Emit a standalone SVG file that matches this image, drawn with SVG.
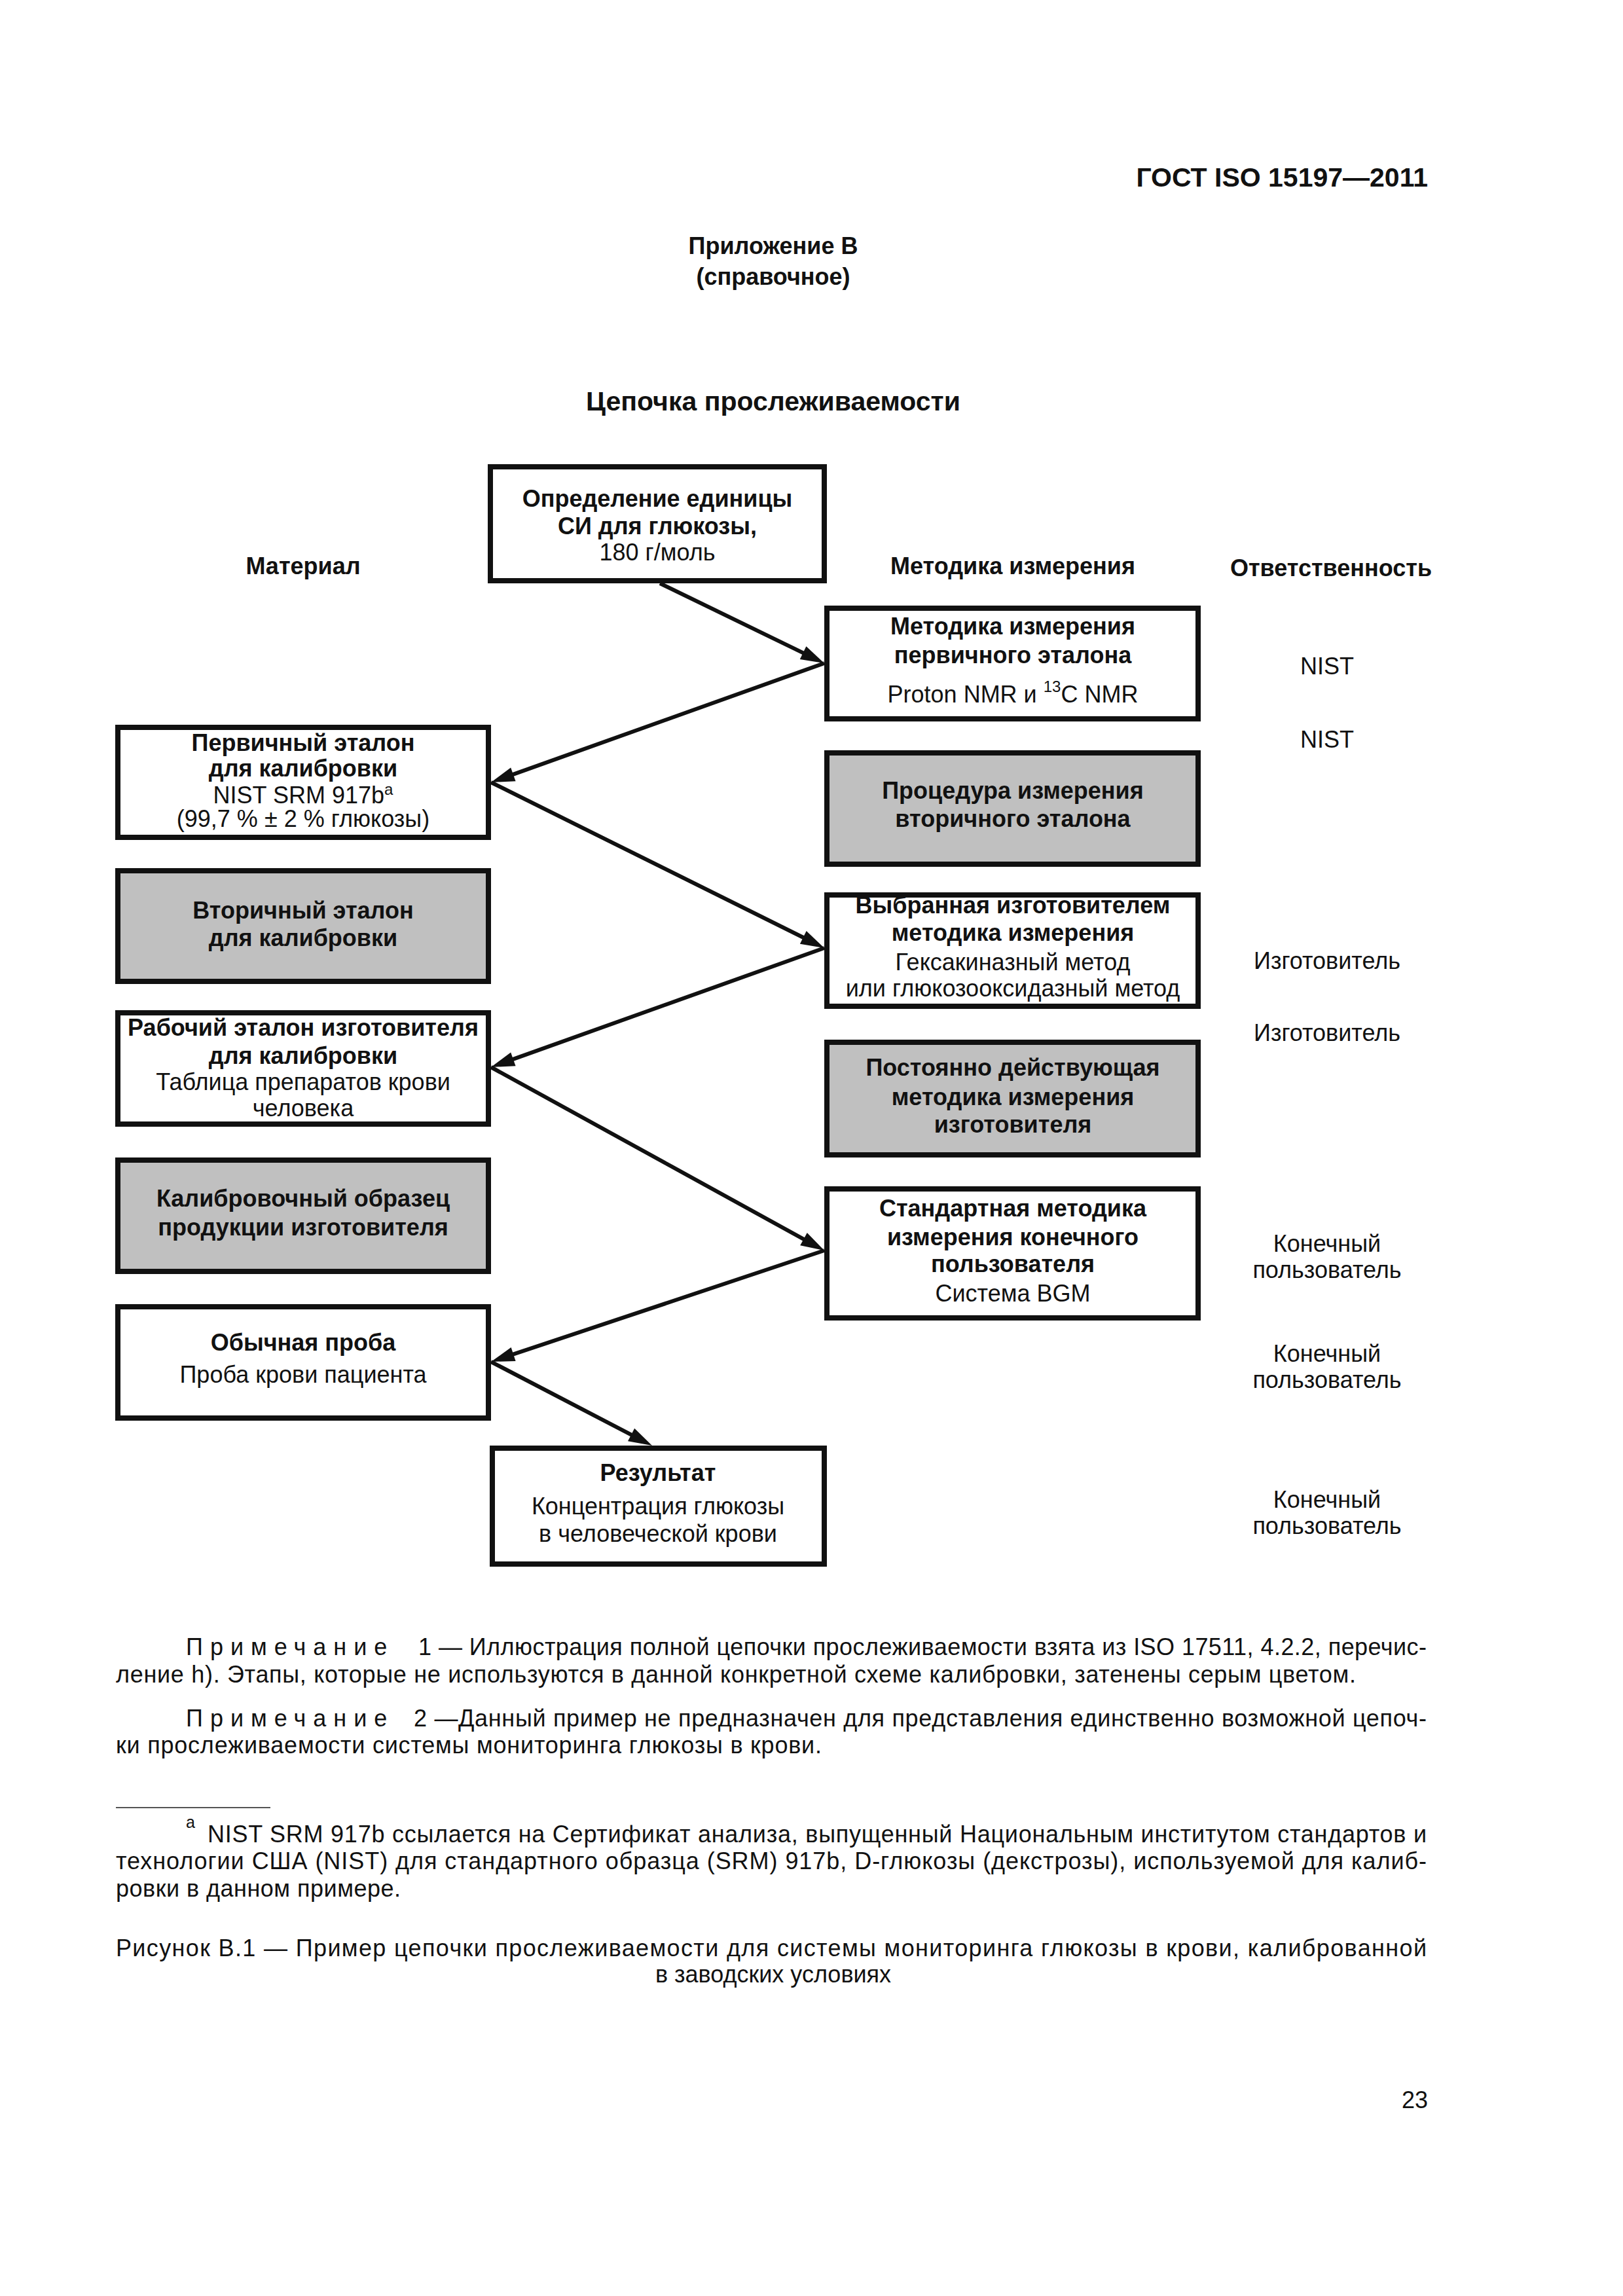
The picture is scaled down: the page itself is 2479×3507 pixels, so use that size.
<svg xmlns="http://www.w3.org/2000/svg" width="2479" height="3507" viewBox="0 0 2479 3507">
<defs>
<style>
text{font-family:"Liberation Sans",Arial,sans-serif;fill:#111;}
.b{font-weight:bold;}
.c{text-anchor:middle;}
.r{text-anchor:end;}
.t{font-size:36px;}
.box{fill:#fff;stroke:#111;stroke-width:8;}
.gray{fill:#c0c0c0;stroke:#111;stroke-width:8;}
.conn{stroke:#111;stroke-width:6;fill:none;marker-end:url(#ah);}
</style>
<marker id="ah" markerUnits="userSpaceOnUse" viewBox="0 0 36 22" refX="21" refY="11" markerWidth="36" markerHeight="22" orient="auto" overflow="visible">
<path d="M0,0 L36,11 L0,22 z" fill="#111"/>
</marker>
</defs>
<rect width="2479" height="3507" fill="#fff"/>

<g id="header">
<text x="2181" y="285" class="b r" font-size="41">ГОСТ ISO 15197—2011</text>
<text x="1181" y="388" class="b c" font-size="36">Приложение В</text>
<text x="1181" y="435" class="b c" font-size="36">(справочное)</text>
<text x="1181" y="627" class="b c" font-size="41">Цепочка прослеживаемости</text>
<text x="463" y="877" class="b c t">Материал</text>
<text x="1547" y="877" class="b c t">Методика измерения</text>
<text x="2033" y="880" class="b c t">Ответственность</text>
</g>

<g id="node-si">
<rect class="box" x="749" y="713" width="510" height="174"/>
<text x="1004" y="774" class="b c t">Определение единицы</text>
<text x="1004" y="816" class="b c t">СИ для глюкозы,</text>
<text x="1004" y="856" class="c t">180 г/моль</text>
</g>

<g id="node-m1">
<rect class="box" x="1263" y="929" width="567" height="169"/>
<text x="1547" y="969" class="b c t">Методика измерения</text>
<text x="1547" y="1013" class="b c t">первичного эталона</text>
<text x="1547" y="1073" class="c t">Proton NMR и <tspan dy="-16" font-size="24">13</tspan><tspan dy="16">C NMR</tspan></text>
</g>

<g id="node-l1">
<rect class="box" x="180" y="1111" width="566" height="168"/>
<text x="463" y="1147" class="b c t">Первичный эталон</text>
<text x="463" y="1186" class="b c t">для калибровки</text>
<text x="463" y="1227" class="c t">NIST SRM 917b<tspan dy="-13" font-size="24">a</tspan></text>
<text x="463" y="1263" class="c t">(99,7 % ± 2 % глюкозы)</text>
</g>

<g id="node-m2">
<rect class="gray" x="1263" y="1150" width="567" height="170"/>
<text x="1547" y="1220" class="b c t">Процедура измерения</text>
<text x="1547" y="1263" class="b c t">вторичного эталона</text>
</g>

<g id="node-l2">
<rect class="gray" x="180" y="1330" width="566" height="169"/>
<text x="463" y="1403" class="b c t">Вторичный эталон</text>
<text x="463" y="1445" class="b c t">для калибровки</text>
</g>

<g id="node-m3">
<rect class="box" x="1263" y="1367" width="567" height="170"/>
<text x="1547" y="1395" class="b c t">Выбранная изготовителем</text>
<text x="1547" y="1437" class="b c t">методика измерения</text>
<text x="1547" y="1482" class="c t">Гексакиназный метод</text>
<text x="1547" y="1522" class="c t">или глюкозооксидазный метод</text>
</g>

<g id="node-l3">
<rect class="box" x="180" y="1547" width="566" height="170"/>
<text x="463" y="1582" class="b c t">Рабочий эталон изготовителя</text>
<text x="463" y="1625" class="b c t">для калибровки</text>
<text x="463" y="1665" class="c t">Таблица препаратов крови</text>
<text x="463" y="1705" class="c t">человека</text>
</g>

<g id="node-m4">
<rect class="gray" x="1263" y="1592" width="567" height="172"/>
<text x="1547" y="1643" class="b c t">Постоянно действующая</text>
<text x="1547" y="1688" class="b c t">методика измерения</text>
<text x="1547" y="1730" class="b c t">изготовителя</text>
</g>

<g id="node-l4">
<rect class="gray" x="180" y="1772" width="566" height="170"/>
<text x="463" y="1843" class="b c t">Калибровочный образец</text>
<text x="463" y="1887" class="b c t">продукции изготовителя</text>
</g>

<g id="node-m5">
<rect class="box" x="1263" y="1816" width="567" height="197"/>
<text x="1547" y="1858" class="b c t">Стандартная методика</text>
<text x="1547" y="1902" class="b c t">измерения конечного</text>
<text x="1547" y="1943" class="b c t">пользователя</text>
<text x="1547" y="1988" class="c t">Система BGM</text>
</g>

<g id="node-l5">
<rect class="box" x="180" y="1996" width="566" height="170"/>
<text x="463" y="2063" class="b c t">Обычная проба</text>
<text x="463" y="2112" class="c t">Проба крови пациента</text>
</g>

<g id="node-result">
<rect class="box" x="752" y="2212" width="507" height="177"/>
<text x="1005" y="2262" class="b c t">Результат</text>
<text x="1005" y="2313" class="c t">Концентрация глюкозы</text>
<text x="1005" y="2355" class="c t">в человеческой крови</text>
</g>

<g id="responsibility">
<text x="2027" y="1030" class="c t">NIST</text>
<text x="2027" y="1142" class="c t">NIST</text>
<text x="2027" y="1480" class="c t">Изготовитель</text>
<text x="2027" y="1590" class="c t">Изготовитель</text>
<text x="2027" y="1912" class="c t">Конечный</text>
<text x="2027" y="1952" class="c t">пользователь</text>
<text x="2027" y="2080" class="c t">Конечный</text>
<text x="2027" y="2120" class="c t">пользователь</text>
<text x="2027" y="2303" class="c t">Конечный</text>
<text x="2027" y="2343" class="c t">пользователь</text>
</g>

<g id="connectors">
<path class="conn" d="M1008,891 L1245.5,1006.4"/>
<path class="conn" d="M1259,1013 L764.1,1189.9"/>
<path class="conn" d="M750,1195 L1245.6,1441.3"/>
<path class="conn" d="M1259,1448 L764.1,1624.9"/>
<path class="conn" d="M750,1630 L1245.9,1902.8"/>
<path class="conn" d="M1259,1910 L764.2,2075.2"/>
<path class="conn" d="M750,2080 L982.7,2201.1"/>
</g>

<g id="notes">
<text x="284" y="2528" class="t" letter-spacing="11">Примечание</text>
<text x="639" y="2528" class="t" textLength="1540" lengthAdjust="spacing">1 — Иллюстрация полной цепочки прослеживаемости взята из ISO 17511, 4.2.2, перечис-</text>
<text x="177" y="2570" class="t" textLength="1894" lengthAdjust="spacing">ление h). Этапы, которые не используются в данной конкретной схеме калибровки, затенены серым цветом.</text>
<text x="284" y="2637" class="t" letter-spacing="11">Примечание</text>
<text x="632" y="2637" class="t" textLength="1547" lengthAdjust="spacing">2 —Данный пример не предназначен для представления единственно возможной цепоч-</text>
<text x="177" y="2678" class="t" textLength="1078" lengthAdjust="spacing">ки прослеживаемости системы мониторинга глюкозы в крови.</text>
<line x1="177" y1="2761" x2="413" y2="2761" stroke="#555" stroke-width="2"/>
<text x="284" y="2792" font-size="25">a</text>
<text x="317" y="2814" class="t" textLength="1862" lengthAdjust="spacing">NIST SRM 917b ссылается на Сертификат анализа, выпущенный Национальным институтом стандартов и</text>
<text x="177" y="2855" class="t" textLength="2002" lengthAdjust="spacing">технологии США (NIST) для стандартного образца (SRM) 917b, D-глюкозы (декстрозы), используемой для калиб-</text>
<text x="177" y="2897" class="t" textLength="435" lengthAdjust="spacing">ровки в данном примере.</text>
<text x="177" y="2988" class="t" textLength="2002" lengthAdjust="spacing">Рисунок В.1 — Пример цепочки прослеживаемости для системы мониторинга глюкозы в крови, калиброванной</text>
<text x="1181" y="3028" class="c t">в заводских условиях</text>
<text x="2181" y="3220" class="r t">23</text>
</g>
</svg>
